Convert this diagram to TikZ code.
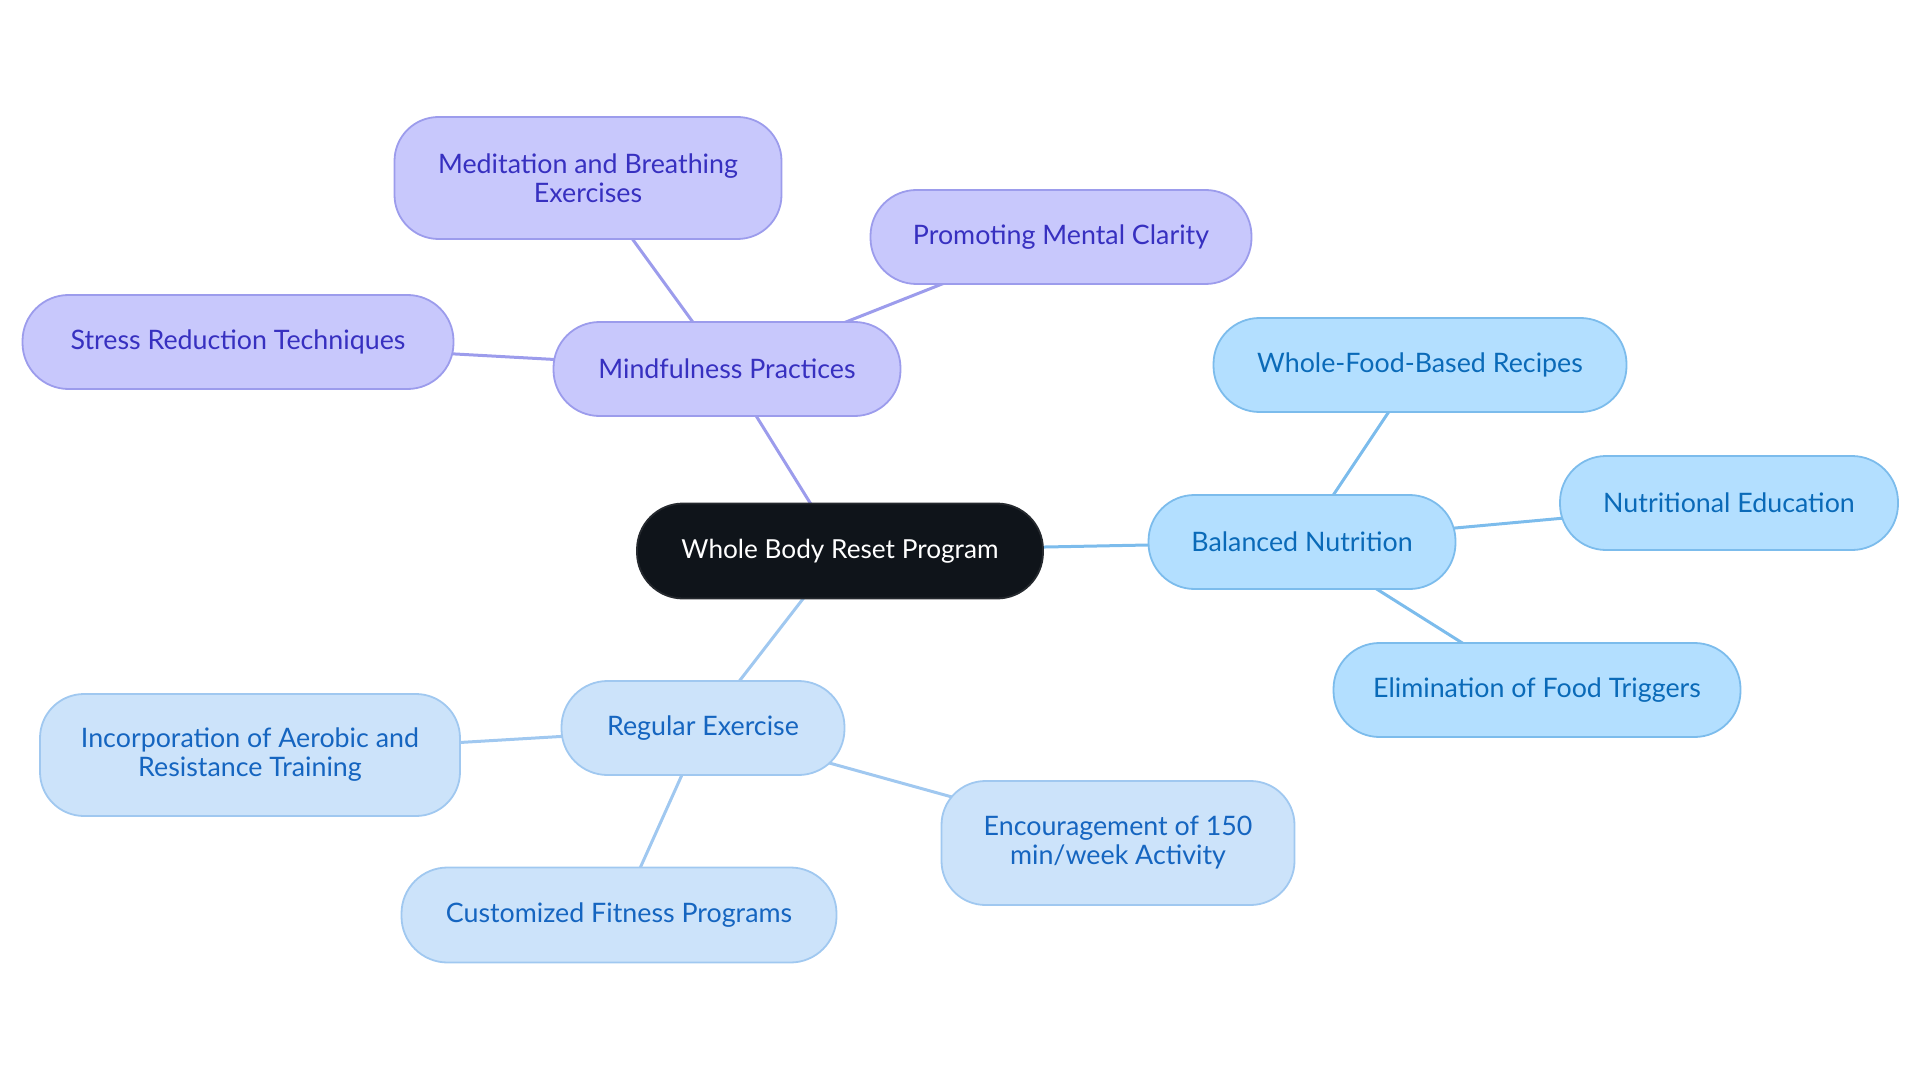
\documentclass[tikz,border=0pt]{standalone}
\usepackage{fontspec}
\setmainfont{Lato}
\usetikzlibrary{backgrounds}
\definecolor{pfill}{HTML}{C8C8FC}
\definecolor{pdraw}{HTML}{9C9CEC}
\definecolor{ptext}{HTML}{3730C0}
\definecolor{bfill}{HTML}{B3DFFF}
\definecolor{bdraw}{HTML}{7CBCEC}
\definecolor{btext}{HTML}{0A6AB8}
\definecolor{lfill}{HTML}{CCE3FA}
\definecolor{ldraw}{HTML}{A0C8F0}
\definecolor{ltext}{HTML}{1565C0}
\definecolor{cfill}{HTML}{0F141A}
\tikzset{
  x=1pt, y=-1pt,
  base/.style={rounded corners=46pt, line width=1.8pt, align=center, inner sep=0pt,
    font=\fontsize{26.8}{29}\selectfont, minimum height=94pt},
  tall/.style={minimum height=122pt, rounded corners=44pt},
  central/.style={base, fill=cfill, draw=cfill!80!gray, text=white, font=\fontsize{26.2}{29}\selectfont},
  purp/.style={base, fill=pfill, draw=pdraw, text=ptext},
  blu/.style={base, fill=bfill, draw=bdraw, text=btext},
  lblu/.style={base, fill=lfill, draw=ldraw, text=ltext},
  pline/.style={draw=pdraw, line width=3pt},
  bline/.style={draw=bdraw, line width=3pt},
  lline/.style={draw=ldraw, line width=3pt},
}
\begin{document}
\begin{tikzpicture}
\useasboundingbox (0,0) rectangle (1920,1083);
\node[central, minimum width=406pt, minimum height=95pt] (c) at (840,551) {Whole Body Reset Program};
\node[purp, minimum width=347pt] (mp) at (727,369) {Mindfulness Practices};
\node[purp, tall, minimum width=387pt] (mb) at (588,178) {Meditation and Breathing\\Exercises};
\node[purp, minimum width=381pt] (pm) at (1061,237) {Promoting Mental Clarity};
\node[purp, minimum width=431pt] (sr) at (238,342) {Stress Reduction Techniques};
\node[blu, minimum width=307pt] (bn) at (1302,542) {Balanced Nutrition};
\node[blu, minimum width=413pt] (wf) at (1420,365) {Whole-Food-Based Recipes};
\node[blu, minimum width=338pt] (ne) at (1729,503) {Nutritional Education};
\node[blu, minimum width=407pt] (ef) at (1537,690) {Elimination of Food Triggers};
\node[lblu, minimum width=283pt] (re) at (703,728) {Regular Exercise};
\node[lblu, tall, minimum width=420pt] (ia) at (250,755) {Incorporation of Aerobic and\\Resistance Training};
\node[lblu, tall, minimum width=353pt, minimum height=124pt] (en) at (1118,843) {Encouragement of 150\\min/week Activity};
\node[lblu, minimum width=435pt, minimum height=95pt] (cf) at (619,915) {Customized Fitness Programs};
\begin{scope}[on background layer]
\draw[pline] (c.center) -- (mp.center);
\draw[pline] (mp.center) -- (mb.center);
\draw[pline] (mp.center) -- (pm.center);
\draw[pline] (mp.center) -- (sr.center);
\draw[bline] (c.center) -- (bn.center);
\draw[bline] (bn.center) -- (wf.center);
\draw[bline] (bn.center) -- (ne.center);
\draw[bline] (bn.center) -- (ef.center);
\draw[lline] (c.center) -- (re.center);
\draw[lline] (re.center) -- (ia.center);
\draw[lline] (re.center) -- (en.center);
\draw[lline] (re.center) -- (cf.center);
\end{scope}
\end{tikzpicture}
\end{document}
